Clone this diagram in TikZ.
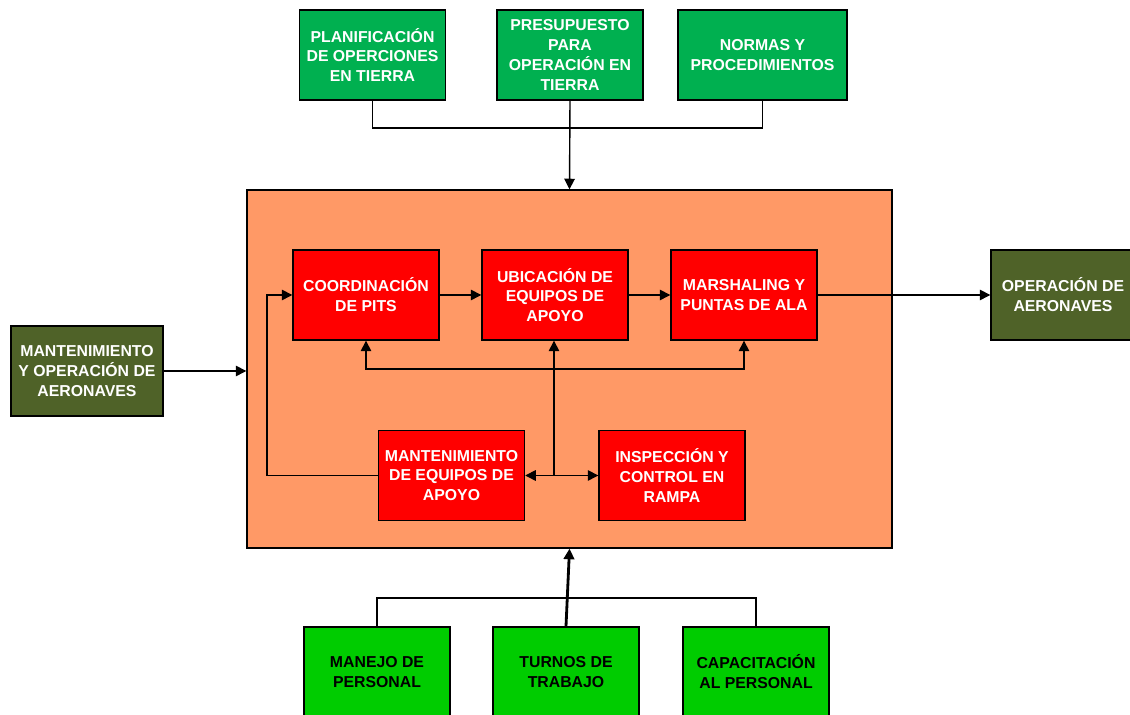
\documentclass[tikz,border=0pt]{standalone}
\usepackage{fontspec}
\setmainfont{Liberation Sans}
\usetikzlibrary{arrows.meta}
\definecolor{topgreen}{HTML}{00B050}
\definecolor{lowgreen}{HTML}{00CC00}
\definecolor{olive}{HTML}{4F6228}
\definecolor{salmon}{HTML}{FF9966}
\definecolor{boxred}{HTML}{FF0000}
\begin{document}
\begin{tikzpicture}[
  box/.style={draw=black, thick, minimum width=2.92cm, minimum height=1.8cm, align=center, inner sep=1pt, font=\fontsize{9}{11.3}\selectfont\bfseries},
  input/.style={box, fill=topgreen, text=white},
  resource/.style={box, fill=lowgreen, text=black},
  outer/.style={box, fill=olive, text=white},
  process/.style={box, fill=boxred, text=white},
  flow/.style={-{Triangle[length=6pt,width=6pt]}, thick},
  thickflow/.style={flow, line width=1.6pt}
  ]
	\useasboundingbox (0,0) rectangle (22.6,14.3);
	\clip (0,0) rectangle (22.6,14.3);

	\node[draw=black, thick, fill=salmon, minimum width=12.9cm, minimum height=7.16cm] (main) at (11.39,6.92) {};

	\node[input] (plan) at (7.45,13.2) {PLANIFICACIÓN\\DE OPERCIONES\\EN TIERRA};
	\node[input] (pres) at (11.4,13.2) {PRESUPUESTO\\PARA\\OPERACIÓN EN\\TIERRA};
	\node[input, minimum width=3.38cm] (normas) at (15.25,13.2) {NORMAS Y\\PROCEDIMIENTOS};

	\node[process] (coord) at (7.32,8.4) {COORDINACIÓN\\DE PITS};
	\node[process] (ubic) at (11.1,8.4) {UBICACIÓN DE\\EQUIPOS DE\\APOYO};
	\node[process] (marsh) at (14.88,8.4) {MARSHALING Y\\PUNTAS DE ALA};
	\node[process] (mant) at (9.03,4.79) {MANTENIMIENTO\\DE EQUIPOS DE\\APOYO};
	\node[process] (insp) at (13.44,4.79) {INSPECCIÓN Y\\CONTROL EN\\RAMPA};

	\node[outer, minimum width=3.04cm] (mantaer) at (1.74,6.88) {MANTENIMIENTO\\Y OPERACIÓN DE\\AERONAVES};
	\node[outer, minimum width=2.88cm] (oper) at (21.26,8.4) {OPERACIÓN DE\\AERONAVES};

	\node[resource] (manejo) at (7.54,0.86) {MANEJO DE\\PERSONAL};
	\node[resource] (turnos) at (11.32,0.86) {TURNOS DE\\TRABAJO};
	\node[resource] (capac) at (15.12,0.86) {CAPACITACIÓN\\AL PERSONAL};

	\coordinate (topbus) at (11.4,11.74);
	\coordinate (lowbus) at (11.32,2.34);
	\coordinate (midbus) at (11.08,6.92);
	\coordinate (hub) at (11.08,4.79);
	\coordinate (loop) at (5.34,4.79);

	% entradas superiores
	\draw[thick] (plan.south) |- (topbus) -| (normas.south);
	\draw[flow] (pres.south) -- (main.north);

	% recursos inferiores
	\draw[thick] (manejo.north) |- (lowbus) -| (capac.north);
	\draw[thickflow] (turnos.north) -- (main.south);

	% entradas y salidas laterales
	\draw[flow] (mantaer.east) -- (mantaer.east -| main.west);
	\draw[flow] (marsh.east) -- (oper.west);

	% flujo interno
	\draw[flow] (coord.east) -- (ubic.west);
	\draw[flow] (ubic.east) -- (marsh.west);
	\draw[flow] (mant.west) -- (loop) |- (coord.west);
	\draw[line width=1.6pt] (hub) -- (midbus);
	\draw[flow] (midbus) -- (midbus |- ubic.south);
	\draw[flow] (midbus) -| (coord.south);
	\draw[flow] (midbus) -| (marsh.south);
	\draw[flow] (hub) -- (mant.east);
	\draw[flow] (hub) -- (insp.west);
\end{tikzpicture}
\end{document}
